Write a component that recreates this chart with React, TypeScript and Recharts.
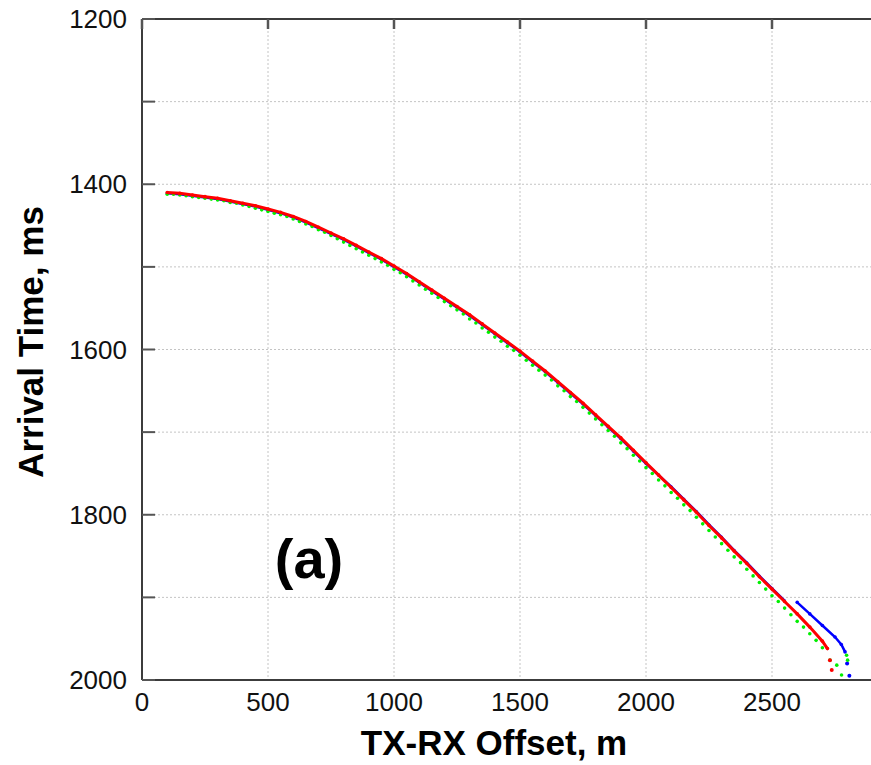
import { CartesianGrid, Customized, ReferenceLine, Scatter, ScatterChart, XAxis, YAxis } from 'recharts';

// offsets in metres, arrival times in ms
const OFFSET_M = [
    100, 150, 200, 250, 300, 350, 400, 450, 500, 550,
    600, 650, 700, 750, 800, 850, 900, 950, 1000, 1050,
    1100, 1150, 1200, 1250, 1300, 1350, 1400, 1450, 1500, 1550,
    1600, 1650, 1700, 1750, 1800, 1850, 1900, 1950, 2000, 2050,
    2100, 2150, 2200, 2250, 2300, 2350, 2400, 2450, 2500, 2550,
];

const RED_MS = [
    1410, 1411, 1413, 1415, 1417, 1420, 1423, 1426, 1430, 1434,
    1439, 1445, 1452, 1459, 1466, 1474, 1482, 1490, 1499, 1508,
    1518, 1528, 1538, 1548, 1558, 1569, 1580, 1591, 1602, 1614,
    1626, 1639, 1652, 1665, 1679, 1693, 1707, 1722, 1737, 1752,
    1767, 1782, 1797, 1813, 1828, 1844, 1859, 1875, 1890, 1905,
];
const RED_TAIL_OFFSET_M = [2600, 2650, 2700, 2720];
const RED_TAIL_MS = [1920, 1936, 1953, 1962];
const RED_END_OFFSET_M = [2730, 2737];
const RED_END_MS = [1976, 1988];

const BLUE_MS = [
    1411, 1412, 1414, 1416, 1418, 1421, 1424, 1427, 1431, 1435,
    1440, 1446, 1453, 1460, 1467, 1475, 1483, 1491, 1500, 1509,
    1519, 1529, 1539, 1549, 1559, 1570, 1581, 1592, 1603, 1615,
    1627, 1640, 1653, 1666, 1680, 1694, 1708, 1723, 1738, 1752,
    1766, 1781, 1796, 1812, 1827, 1843, 1858, 1874, 1889, 1904,
];
const BLUE_FAR_OFFSET_M = [2600, 2650, 2700, 2750, 2775, 2790];
const BLUE_FAR_MS = [1906, 1920, 1934, 1948, 1957, 1966];
const BLUE_END_OFFSET_M = [2798, 2807];
const BLUE_END_MS = [1980, 1995];

const GREEN_OFFSET_M = [
    100, 125, 150, 175, 200, 225, 250, 275, 300, 325,
    350, 375, 400, 425, 450, 475, 500, 525, 550, 575,
    600, 625, 650, 675, 700, 725, 750, 775, 800, 825,
    850, 875, 900, 925, 950, 975, 1000, 1025, 1050, 1075,
    1100, 1125, 1150, 1175, 1200, 1225, 1250, 1275, 1300, 1325,
    1350, 1375, 1400, 1425, 1450, 1475, 1500, 1525, 1550, 1575,
    1600, 1625, 1650, 1675, 1700, 1725, 1750, 1775, 1800, 1825,
    1850, 1875, 1900, 1925, 1950, 1975, 2000, 2025, 2050, 2075,
    2100, 2125, 2150, 2175, 2200, 2225, 2250, 2275, 2300, 2325,
    2350, 2375, 2400, 2425, 2450, 2475, 2500, 2525, 2550, 2575,
    2600, 2625, 2650, 2675, 2700, 2730, 2757, 2776, 2796, 2800,
];
const GREEN_MS = [
    1412, 1412, 1413, 1414, 1415, 1416, 1417, 1418, 1419, 1420,
    1422, 1423, 1425, 1427, 1429, 1431, 1433, 1435, 1437, 1439,
    1442, 1445, 1448, 1451, 1455, 1458, 1462, 1466, 1470, 1474,
    1478, 1482, 1486, 1490, 1494, 1498, 1503, 1507, 1512, 1517,
    1522, 1527, 1532, 1537, 1542, 1547, 1552, 1557, 1563, 1568,
    1574, 1579, 1585, 1590, 1596, 1601, 1607, 1613, 1619, 1625,
    1631, 1637, 1644, 1650, 1657, 1663, 1670, 1677, 1684, 1691,
    1698, 1705, 1713, 1720, 1728, 1735, 1743, 1750, 1758, 1765,
    1773, 1780, 1788, 1795, 1803, 1811, 1819, 1827, 1835, 1843,
    1851, 1858, 1866, 1874, 1882, 1890, 1898, 1905, 1913, 1921,
    1929, 1936, 1944, 1952, 1961, 1976, 1982, 1994, 1970, 1976,
];

const X_TICKS = [0, 500, 1000, 1500, 2000, 2500];
const Y_TICKS = [1200, 1300, 1400, 1500, 1600, 1700, 1800, 1900, 2000];

const zip = (xs: number[], ys: number[]) => xs.map((x, i) => ({ x, t: ys[i] }));

const redData = [...zip(OFFSET_M, RED_MS), ...zip(RED_TAIL_OFFSET_M, RED_TAIL_MS)];
const redEnd = zip(RED_END_OFFSET_M, RED_END_MS);
const blueNear = zip(OFFSET_M, BLUE_MS);
const blueFar = zip(BLUE_FAR_OFFSET_M, BLUE_FAR_MS);
const blueEnd = zip(BLUE_END_OFFSET_M, BLUE_END_MS);
const greenData = zip(GREEN_OFFSET_M, GREEN_MS);
// inward tick marks along the top border, placed through the axis scales
const topTicks = X_TICKS.map(x => ({ x, t: Y_TICKS[0] }));

const FONT = "'Liberation Sans', Arial, sans-serif";
const AXIS_LINE = { stroke: '#3c3c3c', strokeWidth: 2 };
const TICK_LINE = { stroke: '#555', strokeWidth: 2 };

const dot = (color: string, r: number) => (props: any) =>
    <circle cx={props.cx} cy={props.cy} r={r} fill={color} />;

const topTick = (props: any) =>
    <line x1={props.cx} x2={props.cx} y1={props.cy} y2={props.cy + 10} stroke="#555" strokeWidth={2.5} />;

const Titles = () => (
    <g fontFamily={FONT} fontWeight="bold" fill="#000">
        <text transform="translate(43,342) rotate(-90)" textAnchor="middle" fontSize={35}>Arrival Time, ms</text>
        <text x={494} y={755} textAnchor="middle" fontSize={35}>TX-RX Offset, m</text>
        <text x={309} y={578} textAnchor="middle" fontSize={56}>(a)</text>
    </g>
);

const App = () => {
    return (
        <div style={{ position: 'absolute', left: 0, top: 0, width: 871, height: 765, overflow: 'hidden', background: '#fff' }}>
            <ScatterChart width={900} height={765} margin={{ top: 19, right: 2, bottom: 0, left: 0 }}>
                <CartesianGrid stroke="#c4c4c4" strokeDasharray="2 2" />
                <XAxis
                    type="number"
                    dataKey="x"
                    domain={[0, 3000]}
                    ticks={X_TICKS}
                    interval={0}
                    height={85}
                    tickLine={false}
                    tickSize={0}
                    tickMargin={13}
                    axisLine={AXIS_LINE}
                    tick={{ fill: '#111', fontSize: 26, fontFamily: FONT }}
                />
                <YAxis
                    type="number"
                    dataKey="t"
                    domain={[1200, 2000]}
                    reversed
                    ticks={Y_TICKS}
                    interval={0}
                    width={142}
                    tickSize={-13}
                    tickMargin={28}
                    tickFormatter={(v: number) => (v % 200 === 0 ? String(v) : '')}
                    axisLine={AXIS_LINE}
                    tickLine={TICK_LINE}
                    tick={{ fill: '#111', fontSize: 26, fontFamily: FONT }}
                />
                <ReferenceLine y={1200} stroke={AXIS_LINE.stroke} strokeWidth={2} />
                <Scatter data={topTicks} shape={topTick} isAnimationActive={false} />
                <Scatter data={blueNear} line={{ stroke: '#0000ff', strokeWidth: 2.5 }} shape={dot('#0000ff', 1.5)} isAnimationActive={false} />
                <Scatter data={blueFar} line={{ stroke: '#0000ff', strokeWidth: 2.5 }} shape={dot('#0000ff', 1.8)} isAnimationActive={false} />
                <Scatter data={blueEnd} shape={dot('#0000ff', 2)} isAnimationActive={false} />
                <Scatter data={greenData} shape={dot('#00ee00', 1.8)} isAnimationActive={false} />
                <Scatter data={redData} line={{ stroke: '#ff0000', strokeWidth: 3 }} shape={dot('#ff0000', 1.8)} isAnimationActive={false} />
                <Scatter data={redEnd} shape={dot('#ff0000', 2)} isAnimationActive={false} />
                <Customized component={Titles} />
            </ScatterChart>
        </div>
    );
};

export default App;
